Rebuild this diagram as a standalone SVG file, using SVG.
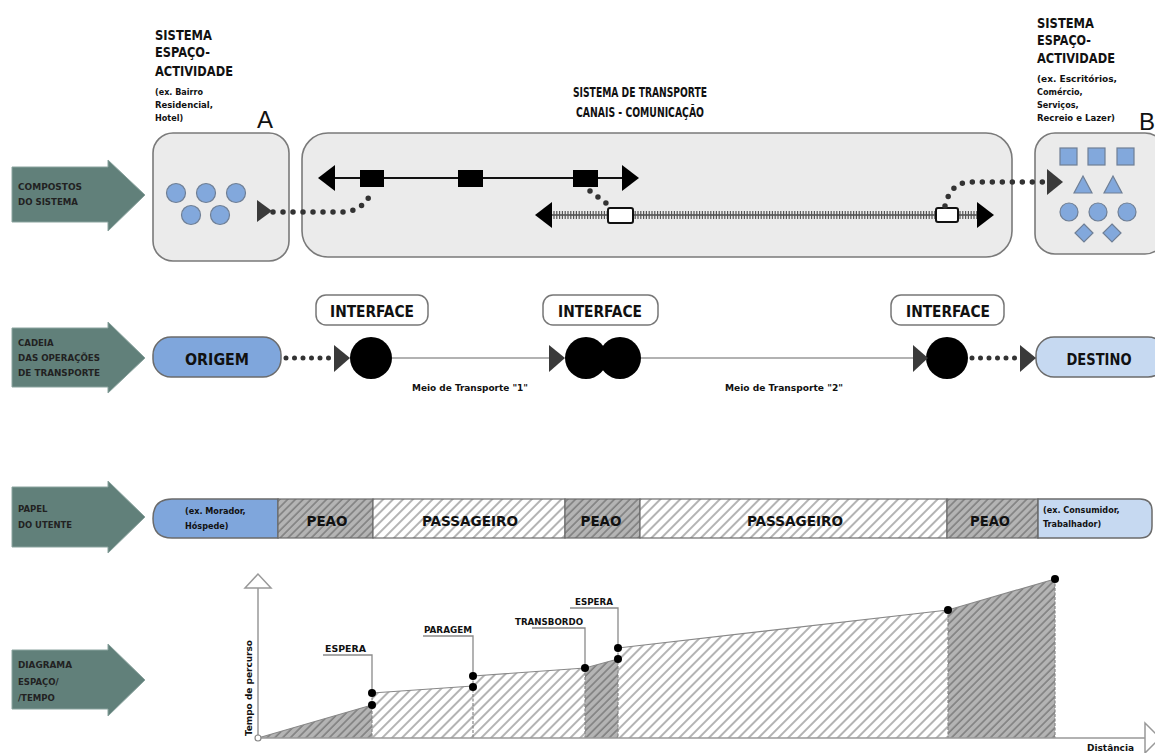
<svg xmlns="http://www.w3.org/2000/svg" width="1155" height="753" viewBox="0 0 1155 753">
<style>
.t{font-family:"DejaVu Sans Condensed","DejaVu Sans","Liberation Sans",sans-serif;font-stretch:condensed;font-weight:bold;fill:#111}
.lab{font-size:9.5px;fill:#222}
.big{font-size:14.5px}
.sm{font-size:9px}
.mid{text-anchor:middle}
.arrow{fill:#61807a;stroke:#8aa39e;stroke-width:1}
.box{fill:#ebebeb;stroke:#7a7a7a;stroke-width:1.6}
.shp{fill:#82a8dc;stroke:#6f7f95;stroke-width:1.2}
.dots{fill:none;stroke:#333;stroke-width:5.5;stroke-linecap:round;stroke-dasharray:0 10}
.dots2{fill:none;stroke:#333;stroke-width:5;stroke-linecap:round;stroke-dasharray:0 8.5}
.head{fill:#3a3a3a}
.blk{fill:#000}
.ifc{fill:#fff;stroke:#777;stroke-width:1.5}
.pill{stroke:#6b6b6b;stroke-width:1.5}
.gl{stroke:#999;stroke-width:1.5;fill:none}
.lead{stroke:#8a8a8a;stroke-width:1.3;fill:none}
.top{stroke:#888;stroke-width:1.2;fill:none}
</style>
<defs>
<pattern id="hl" patternUnits="userSpaceOnUse" width="7" height="7" patternTransform="rotate(45)">
<rect width="7" height="7" fill="#fff"/>
<line x1="1" y1="0" x2="1" y2="7" stroke="#8c8c8c" stroke-width="1.3"/>
</pattern>
<pattern id="hd" patternUnits="userSpaceOnUse" width="5.5" height="5.5" patternTransform="rotate(45)">
<rect width="5.5" height="5.5" fill="#b4b4b4"/>
<line x1="1" y1="0" x2="1" y2="5.5" stroke="#6e6e6e" stroke-width="1.2"/>
</pattern>
</defs>
<rect width="1155" height="753" fill="#fff"/>

<!-- left side arrows -->
<g id="row-compostos">
<polygon class="arrow" points="12,167 108,167 108,160 145,195 108,231 108,222 12,222"/>
<text class="t lab" x="18" y="190" textLength="64" lengthAdjust="spacingAndGlyphs">COMPOSTOS</text>
<text class="t lab" x="18" y="205" textLength="60" lengthAdjust="spacingAndGlyphs">DO SISTEMA</text>
</g>
<g id="row-cadeia">
<polygon class="arrow" points="12,328 108,328 108,322 145,358 108,393 108,387 12,387"/>
<text class="t lab" x="18" y="346">CADEIA</text>
<text class="t lab" x="18" y="361" textLength="82" lengthAdjust="spacingAndGlyphs">DAS OPERAÇÕES</text>
<text class="t lab" x="18" y="376" textLength="82" lengthAdjust="spacingAndGlyphs">DE TRANSPORTE</text>
</g>
<g id="row-papel">
<polygon class="arrow" points="12,487 108,487 108,481 145,517 108,553 108,547 12,547"/>
<text class="t lab" x="18" y="512">PAPEL</text>
<text class="t lab" x="18" y="528" textLength="54" lengthAdjust="spacingAndGlyphs">DO UTENTE</text>
</g>
<g id="row-diagrama">
<polygon class="arrow" points="12,650 108,650 108,644 145,680 108,716 108,709 12,709"/>
<text class="t lab" x="18" y="668" textLength="54" lengthAdjust="spacingAndGlyphs">DIAGRAMA</text>
<text class="t lab" x="18" y="685">ESPAÇO/</text>
<text class="t lab" x="18" y="701">/TEMPO</text>
</g>

<!-- System A -->
<g id="sistema-a">
<text class="t big" x="155" y="40" textLength="57" lengthAdjust="spacingAndGlyphs">SISTEMA</text>
<text class="t big" x="155" y="57" textLength="55" lengthAdjust="spacingAndGlyphs">ESPAÇO-</text>
<text class="t big" x="155" y="76" textLength="78" lengthAdjust="spacingAndGlyphs">ACTIVIDADE</text>
<text class="t sm" x="155" y="95" textLength="48" lengthAdjust="spacingAndGlyphs">(ex. Bairro</text>
<text class="t sm" x="155" y="108" textLength="58" lengthAdjust="spacingAndGlyphs">Residencial,</text>
<text class="t sm" x="155" y="121">Hotel)</text>
<text x="257" y="128" font-family="Liberation Sans, sans-serif" font-size="24" fill="#111">A</text>
<rect class="box" x="153" y="133" width="136" height="128" rx="20"/>
<circle class="shp" cx="176" cy="193" r="9.5"/>
<circle class="shp" cx="206" cy="193" r="9.5"/>
<circle class="shp" cx="236" cy="193" r="9.5"/>
<circle class="shp" cx="191" cy="215" r="9.5"/>
<circle class="shp" cx="220" cy="215" r="9.5"/>
</g>

<!-- Transport system -->
<g id="sistema-transporte">
<text class="t big mid" x="640" y="97" textLength="134" lengthAdjust="spacingAndGlyphs">SISTEMA DE TRANSPORTE</text>
<text class="t big mid" x="640" y="117" textLength="128" lengthAdjust="spacingAndGlyphs">CANAIS - COMUNICAÇÃO</text>
<rect class="box" x="302" y="133" width="710" height="124" rx="26"/>
<line x1="325" y1="178" x2="630" y2="178" stroke="#111" stroke-width="2"/>
<polygon class="blk" points="318,178 335,165 335,191"/>
<polygon class="blk" points="639,178 622,165 622,191"/>
<rect class="blk" x="360" y="170" width="24" height="17"/>
<rect class="blk" x="458" y="170" width="25" height="17"/>
<rect class="blk" x="573" y="170" width="25" height="17"/>
<line x1="545" y1="215" x2="985" y2="215" stroke="#444" stroke-width="1.5"/>
<line x1="545" y1="215" x2="985" y2="215" stroke="#555" stroke-width="8" stroke-dasharray="1.2 1.6"/>
<polygon class="blk" points="535,215 552,202 552,228"/>
<polygon class="blk" points="994,215 977,202 977,228"/>
<rect x="608" y="208" width="25" height="15" rx="2" fill="#fff" stroke="#111" stroke-width="2"/>
<rect x="936" y="208" width="22" height="14" rx="2" fill="#fff" stroke="#111" stroke-width="2"/>
</g>

<!-- System B -->
<g id="sistema-b">
<text class="t big" x="1037" y="28" textLength="57" lengthAdjust="spacingAndGlyphs">SISTEMA</text>
<text class="t big" x="1037" y="45" textLength="54" lengthAdjust="spacingAndGlyphs">ESPAÇO-</text>
<text class="t big" x="1037" y="63" textLength="78" lengthAdjust="spacingAndGlyphs">ACTIVIDADE</text>
<text class="t sm" x="1037" y="82" textLength="80" lengthAdjust="spacingAndGlyphs">(ex. Escritórios,</text>
<text class="t sm" x="1037" y="95">Comércio,</text>
<text class="t sm" x="1037" y="108">Serviços,</text>
<text class="t sm" x="1037" y="121" textLength="78" lengthAdjust="spacingAndGlyphs">Recreio e Lazer)</text>
<text x="1139" y="130" font-family="Liberation Sans, sans-serif" font-size="24" fill="#111">B</text>
<rect class="box" x="1035" y="133" width="130" height="121" rx="20"/>
<rect class="shp" x="1060" y="148" width="17" height="17"/>
<rect class="shp" x="1088" y="148" width="17" height="17"/>
<rect class="shp" x="1117" y="148" width="17" height="17"/>
<polygon class="shp" points="1083,176 1092,193 1074,193"/>
<polygon class="shp" points="1113,176 1122,193 1104,193"/>
<circle class="shp" cx="1069" cy="212" r="9"/>
<circle class="shp" cx="1098" cy="212" r="9"/>
<circle class="shp" cx="1127" cy="212" r="9"/>
<polygon class="shp" points="1084,224 1093,233 1084,242 1075,233"/>
<polygon class="shp" points="1112,224 1121,233 1112,242 1103,233"/>
</g>

<!-- Row 2 nodes -->
<g id="origem">
<rect class="pill" x="153" y="337" width="128" height="40" rx="18" fill="#7fa6dc"/>
<text class="t mid" x="217" y="365" font-size="16" textLength="64" lengthAdjust="spacingAndGlyphs">ORIGEM</text>
</g>
<g id="interface-1">
<rect class="ifc" x="316" y="295" width="112" height="30" rx="10"/>
<text class="t mid" x="372" y="317" font-size="15" textLength="84" lengthAdjust="spacingAndGlyphs">INTERFACE</text>
<circle class="blk" cx="371" cy="358" r="21"/>
</g>
<g id="interface-2">
<rect class="ifc" x="543" y="295" width="115" height="30" rx="10"/>
<text class="t mid" x="600" y="317" font-size="15" textLength="84" lengthAdjust="spacingAndGlyphs">INTERFACE</text>
<circle class="blk" cx="586" cy="358" r="21"/>
<circle class="blk" cx="620" cy="358" r="21"/>
</g>
<g id="interface-3">
<rect class="ifc" x="891" y="295" width="113" height="30" rx="10"/>
<text class="t mid" x="948" y="317" font-size="15" textLength="84" lengthAdjust="spacingAndGlyphs">INTERFACE</text>
<circle class="blk" cx="947" cy="358" r="21"/>
</g>
<g id="destino">
<rect class="pill" x="1036" y="337" width="130" height="40" rx="18" fill="#c6d9f1"/>
<text class="t mid" x="1099" y="365" font-size="16" textLength="65" lengthAdjust="spacingAndGlyphs">DESTINO</text>
</g>

<!-- connectors -->
<g id="connectors">
<path class="dots" d="M273,212 L345,212 Q364,210 372,191"/>
<path class="dots" d="M590,191 L611,207"/>
<path class="dots" d="M945,206 Q950,184 968,182 L1046,182"/>
<polygon class="head" points="257,200 272,211 257,222"/>
<polygon class="head" points="1047,169 1063,182 1047,195"/>
<path class="dots2" d="M286,358 L332,358"/>
<polygon class="head" points="334,345 350,358 334,372"/>
<line x1="392" y1="358" x2="549" y2="358" stroke="#999" stroke-width="1.6"/>
<polygon class="head" points="549,345 565,358 549,372"/>
<line x1="641" y1="358" x2="913" y2="358" stroke="#999" stroke-width="1.6"/>
<polygon class="head" points="913,345 928,358 913,372"/>
<path class="dots2" d="M972,358 L1019,358"/>
<polygon class="head" points="1020,345 1036,358 1020,372"/>
<text class="t mid" x="470" y="391" font-size="8.5" textLength="116" lengthAdjust="spacingAndGlyphs">Meio de Transporte "1"</text>
<text class="t mid" x="784" y="391" font-size="8.5" textLength="118" lengthAdjust="spacingAndGlyphs">Meio de Transporte "2"</text>
</g>

<!-- Row 3 bar -->
<g id="papel-bar">
<path d="M278,499 L172,499 Q153,499 153,518.5 Q153,538 172,538 L278,538 Z" fill="#7fa6dc" stroke="#6b6b6b" stroke-width="1.5"/>
<text class="t sm" x="185" y="514">(ex. Morador,</text>
<text class="t sm" x="185" y="529">Hóspede)</text>
<rect x="278" y="499" width="95" height="39" fill="url(#hd)" stroke="#6b6b6b" stroke-width="1.2"/>
<text class="t mid" x="327" y="526" font-size="14" textLength="41" lengthAdjust="spacingAndGlyphs">PEAO</text>
<rect x="373" y="499" width="192" height="39" fill="url(#hl)" stroke="#6b6b6b" stroke-width="1.2"/>
<text class="t mid" x="470" y="526" font-size="14" textLength="96" lengthAdjust="spacingAndGlyphs">PASSAGEIRO</text>
<rect x="565" y="499" width="75" height="39" fill="url(#hd)" stroke="#6b6b6b" stroke-width="1.2"/>
<text class="t mid" x="601" y="526" font-size="14" textLength="41" lengthAdjust="spacingAndGlyphs">PEAO</text>
<rect x="640" y="499" width="307" height="39" fill="url(#hl)" stroke="#6b6b6b" stroke-width="1.2"/>
<text class="t mid" x="795" y="526" font-size="14" textLength="96" lengthAdjust="spacingAndGlyphs">PASSAGEIRO</text>
<rect x="947" y="499" width="91" height="39" fill="url(#hd)" stroke="#6b6b6b" stroke-width="1.2"/>
<text class="t mid" x="990" y="526" font-size="14" textLength="40" lengthAdjust="spacingAndGlyphs">PEAO</text>
<path d="M1038,499 L1140,499 Q1152,499 1152,511 L1152,526 Q1152,538 1140,538 L1038,538 Z" fill="#c6d9f1" stroke="#6b6b6b" stroke-width="1.5"/>
<text class="t sm" x="1043" y="513">(ex. Consumidor,</text>
<text class="t sm" x="1043" y="527">Trabalhador)</text>
</g>

<!-- Row 4 chart -->
<g id="diagrama">
<polygon points="258,738 372,705 372,738" fill="url(#hd)"/>
<polygon points="372,693 473,686 473,738 372,738" fill="url(#hl)"/>
<polygon points="473,676 585,668 585,738 473,738" fill="url(#hl)"/>
<polygon points="585,668 618,659 618,738 585,738" fill="url(#hd)"/>
<polygon points="618,648 948,610 948,738 618,738" fill="url(#hl)"/>
<polygon points="948,610 1055,579 1055,738 948,738" fill="url(#hd)"/>
<path class="top" d="M258,738 L372,705 M372,693 L473,686 M473,676 L585,668 L618,659 M618,648 L948,610 L1055,579"/>
<path class="top" d="M372,693 V738 M473,676 V738 M585,668 V738 M618,648 V738 M948,610 V738 M1055,579 V738" stroke-dasharray="3 1.5"/>
<line class="gl" x1="258" y1="738" x2="258" y2="588"/>
<polygon points="258,574 245,588 271,588" fill="#fff" stroke="#999" stroke-width="1.5"/>
<line class="gl" x1="258" y1="738" x2="1145" y2="738"/>
<polygon points="1145,723 1160,738 1145,753" fill="#fff" stroke="#999" stroke-width="1.5"/>
<circle cx="258" cy="738" r="3" fill="#fff" stroke="#888" stroke-width="1.2"/>
<path class="lead" d="M323,655 H372 V693"/>
<path class="lead" d="M423,636 H473 V676"/>
<path class="lead" d="M532,628 H585 V668"/>
<path class="lead" d="M570,608 H618 V648"/>
<text class="t" x="325" y="652" font-size="8" textLength="41" lengthAdjust="spacingAndGlyphs">ESPERA</text>
<text class="t" x="424" y="633" font-size="8" textLength="48" lengthAdjust="spacingAndGlyphs">PARAGEM</text>
<text class="t" x="515" y="625" font-size="8" textLength="68" lengthAdjust="spacingAndGlyphs">TRANSBORDO</text>
<text class="t" x="575" y="605" font-size="8" textLength="38" lengthAdjust="spacingAndGlyphs">ESPERA</text>
<circle class="blk" cx="372" cy="693" r="4"/>
<circle class="blk" cx="372" cy="705" r="4"/>
<circle class="blk" cx="473" cy="676" r="4"/>
<circle class="blk" cx="473" cy="687" r="4"/>
<circle class="blk" cx="585" cy="668" r="4"/>
<circle class="blk" cx="618" cy="648" r="4"/>
<circle class="blk" cx="618" cy="659" r="4"/>
<circle class="blk" cx="948" cy="610" r="4"/>
<circle class="blk" cx="1055" cy="579" r="4"/>
<text class="t mid" transform="translate(252,688) rotate(-90)" font-size="9" textLength="96" lengthAdjust="spacingAndGlyphs">Tempo de percurso</text>
<text class="t" x="1087" y="751" font-size="8.5" textLength="47" lengthAdjust="spacingAndGlyphs">Distância</text>
</g>
</svg>
